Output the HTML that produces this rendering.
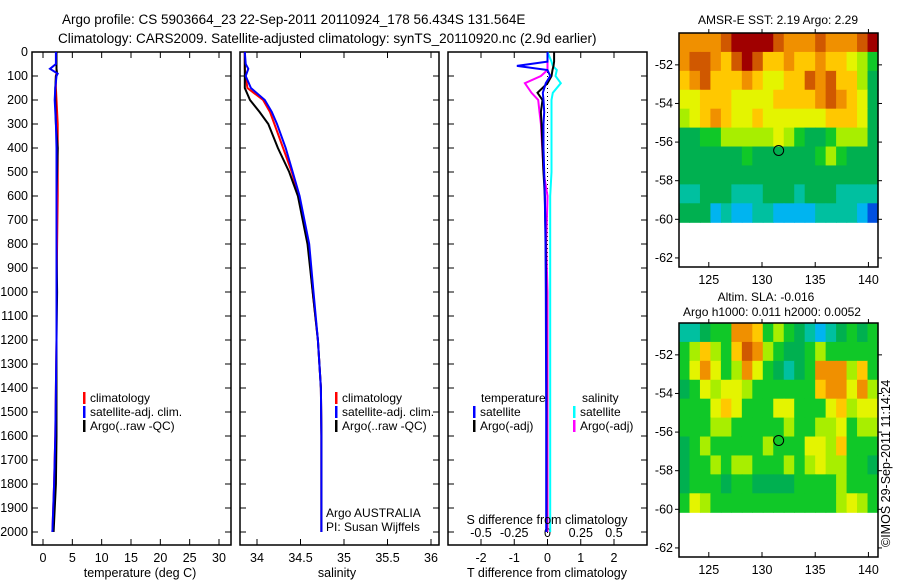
<!DOCTYPE html>
<html><head><meta charset="utf-8"><style>
html,body{margin:0;padding:0;background:#fff;}
svg{display:block;font-family:"Liberation Sans",sans-serif;}
text{fill:#000;}
</style></head><body>
<svg id="fig" width="900" height="580" viewBox="0 0 900 580">
<text x="62" y="24" font-size="13.5">Argo profile: CS 5903664_23 22-Sep-2011 20110924_178 56.434S 131.564E</text>
<text x="58" y="43" font-size="13.5">Climatology: CARS2009. Satellite-adjusted climatology: synTS_20110920.nc (2.9d earlier)</text>
<g id="plots"></g>
<text transform="translate(890,547) rotate(-90)" font-size="12.5">©IMOS 29-Sep-2011 11:14:24</text>
</svg>
<script>
// ---------- data ----------
const depthT = [0,50,70,90,100,150,200,300,400,500,600,800,1000,1200,1400,1600,1800,2000];
const tempClim = [2.3,2.3,2.3,2.3,2.2,2.2,2.3,2.5,2.5,2.5,2.5,2.4,2.3,2.3,2.2,2.1,1.9,1.6];
const tempSat = [2.2,2.2,1.2,2.5,2.3,2.1,2.0,2.2,2.3,2.3,2.3,2.3,2.3,2.3,2.2,2.1,1.9,1.6];
const tempArgo = [2.3,2.3,2.3,2.4,2.2,2.1,2.1,2.2,2.5,2.4,2.3,2.3,2.4,2.3,2.3,2.3,2.2,1.8];
const depthS = [0,50,70,100,150,200,250,300,400,500,600,800,1000,1200,1400,1600,1800,2000];
const salClim = [33.86,33.86,33.86,33.87,33.89,34.07,34.15,34.20,34.30,34.40,34.48,34.59,34.64,34.70,34.735,34.74,34.74,34.74];
const salSat = [33.86,33.87,33.90,33.87,33.93,34.09,34.17,34.23,34.33,34.41,34.49,34.60,34.65,34.70,34.735,34.74,34.74,34.74];
const salArgo = [33.86,33.86,33.86,33.86,33.86,33.92,34.03,34.13,34.24,34.37,34.47,34.58,34.64,34.70,34.735,34.74,34.74,34.74];
const depthD = [0,40,58,75,100,130,170,200,250,300,400,500,600,800,1000,1500,2000];
const dTSat = [0.0,0.0,-0.92,0.0,0.08,-0.05,-0.14,-0.12,-0.1,-0.12,-0.12,-0.1,-0.08,-0.06,-0.05,-0.04,-0.04];
const dTArgo = [0.2,0.2,0.18,0.15,0.12,0.0,-0.3,-0.15,-0.2,-0.18,-0.15,-0.12,-0.08,-0.05,-0.04,-0.03,-0.03];
const dSSat = [0.0,0.03,0.04,0.07,0.06,0.1,0.04,0.03,0.03,0.03,0.03,0.03,0.02,0.02,0.02,0.02,0.02];
const dSArgo = [0.0,0.0,0.0,0.0,-0.05,-0.17,-0.12,-0.07,-0.06,-0.05,-0.04,-0.03,0.0,-0.01,0.0,0.0,0.0];
const tempTicks = [0,5,10,15,20,25,30];
const salTicks = [34,34.5,35,35.5,36];
const dTTicks = [-2,-1,0,1,2];
const dSTicks = [-0.5,-0.25,0,0.25,0.5];
const depthTicks = [0,100,200,300,400,500,600,700,800,900,1000,1100,1200,1300,1400,1500,1600,1700,1800,1900,2000];
const lonTicks = [125,130,135,140];
const latTicks = [-52,-54,-56,-58,-60,-62];
const sstGrid = [
[8,8,8,8,9,10,10,10,10,9,8,8,8,9,8,8,8,9,10],
[8,9,9,8,7,9,10,9,7,7,8,7,7,8,7,7,6,5,4],
[7,8,9,7,7,7,8,7,6,6,7,7,9,8,9,7,7,5,3],
[6,6,7,7,7,6,6,6,6,7,7,7,7,8,9,8,7,6,3],
[5,6,7,8,7,6,6,7,6,6,6,6,6,6,7,7,7,6,3],
[3,3,4,4,5,5,5,5,5,6,5,4,3,3,4,5,5,5,3],
[3,3,3,3,3,3,4,3,3,3,3,3,3,4,5,4,3,3,3],
[3,3,3,3,3,3,3,3,3,3,3,3,3,3,3,3,3,3,3],
[2,2,3,3,3,2,2,2,3,3,3,2,3,3,3,2,2,2,2],
[3,3,3,1,2,1,1,2,2,1,1,1,1,2,2,2,2,1,0]];
const slaGrid = [
[2,2,3,4,4,8,8,7,4,5,4,3,2,1,2,3,4,3,4],
[4,5,7,5,4,7,9,8,5,4,3,3,4,5,4,4,4,4,4],
[4,6,8,6,4,5,8,6,4,3,2,3,4,8,8,8,5,7,4],
[3,4,6,5,6,6,5,4,4,4,4,4,4,7,8,8,6,8,5],
[4,4,4,6,7,6,4,4,4,6,6,4,4,4,6,7,5,6,6],
[4,4,4,5,5,4,4,4,4,4,5,4,4,5,5,6,4,5,5],
[3,4,5,4,4,4,4,4,5,4,4,4,6,6,5,7,4,4,4],
[3,4,4,5,4,5,5,4,4,4,5,4,5,6,5,5,4,4,3],
[3,4,4,4,3,4,4,3,3,3,3,4,4,4,4,5,4,4,4],
[4,6,5,4,4,4,4,4,4,4,4,4,4,4,4,5,6,5,4]];
const argoLon = 131.564, argoLat = -56.434;

// ---------- rendering ----------
const NS="http://www.w3.org/2000/svg";
const root=document.getElementById('plots');
function mk(tag,attrs,parent){const e=document.createElementNS(NS,tag);for(const k in attrs)e.setAttribute(k,attrs[k]);(parent||root).appendChild(e);return e;}
const palette=['#0050e0','#00b4f0','#00c0a0','#00b050','#10c828','#a8ee00','#e4f400','#ffc800','#f09000','#d05800','#a00000'];
const Y0=52, Y1=545;
const yD=d=>Y0+d*0.24;
function lin(d0,d1,p0,p1){return v=>p0+(v-d0)*(p1-p0)/(d1-d0);}

function panel(name,x0,x1,xs,ticks,fmt,showY){
  const g=mk('g',{});
  
  
  const fr=mk('rect',{x:x0,y:Y0,width:x1-x0,height:Y1-Y0,fill:'none',stroke:'#000','stroke-width':1.5},g);
  
  
  ticks.forEach(t=>{const x=xs(t);
    mk('line',{x1:x,x2:x,y1:Y1,y2:Y1-6,stroke:'#000'},g);
    mk('line',{x1:x,x2:x,y1:Y0,y2:Y0+6,stroke:'#000'},g);
    if(fmt){const tx=mk('text',{x:x,y:Y1+17,'font-size':12.5,'text-anchor':'middle'},g);tx.textContent=fmt(t);
      
      }
  });
  depthTicks.forEach(d=>{const y=yD(d);
    mk('line',{x1:x0,x2:x0+6,y1:y,y2:y,stroke:'#000'},g);
    mk('line',{x1:x1,x2:x1-6,y1:y,y2:y,stroke:'#000'},g);
    if(showY){const tx=mk('text',{x:x0-4,y:y+4,'font-size':12.5,'text-anchor':'end'},g);tx.textContent=d;
      
      }
  });
  return g;
}
function line(g,depths,vals,xs,color,name,w){
  const pts=depths.map((d,i)=>xs(vals[i]).toFixed(1)+','+yD(d).toFixed(1)).join(' ');
  const p=mk('polyline',{points:pts,fill:'none',stroke:color,'stroke-width':w||2},g);
  
  
}
function legend(g,x,y,items){
  items.forEach((it,i)=>{
    mk('rect',{x:x,y:y+i*14-10,width:2.5,height:12,fill:it[1]},g);
    const t=mk('text',{x:x+7,y:y+i*14,'font-size':12},g);t.textContent=it[0];
    
    
  });
}
function label(g,x,y,txt,name,anchor,fs){const t=mk('text',{x:x,y:y,'font-size':fs||12.5,'text-anchor':anchor||'middle'},g);t.textContent=txt;
  
  }

const xT=lin(0,30,43,219);
let g=panel('temperature-panel',32,231,xT,tempTicks,v=>v,true);
line(g,depthT,tempClim,xT,'#f00','climatology-temp-line');
line(g,depthT,tempArgo,xT,'#000','argo-temp-line');
line(g,depthT,tempSat,xT,'#00f','satellite-temp-line');
legend(g,83,402,[['climatology','#f00'],['satellite-adj. clim.','#00f'],['Argo(..raw -QC)','#000']]);
label(g,140,577,'temperature (deg C)','x-axis-title-temperature');

const xS=lin(34,36,257,431);
g=panel('salinity-panel',240,439,xS,salTicks,v=>v,false);
line(g,depthS,salClim,xS,'#f00','climatology-salinity-line');
line(g,depthS,salArgo,xS,'#000','argo-salinity-line');
line(g,depthS,salSat,xS,'#00f','satellite-salinity-line');
legend(g,335,402,[['climatology','#f00'],['satellite-adj. clim.','#00f'],['Argo(..raw -QC)','#000']]);
label(g,326,517,'Argo AUSTRALIA','argo-australia-label','start',12);
label(g,326,531,'PI: Susan Wijffels','pi-label','start',12);
label(g,337,577,'salinity','x-axis-title-salinity');

const xDT=lin(-2,2,481,614);
const xDS=lin(-0.5,0.5,481,614);
g=panel('difference-panel',448,647,xDT,dTTicks,v=>v,false);
dSTicks.forEach(t=>{const tx=mk('text',{x:xDS(t),y:537,'font-size':12.5,'text-anchor':'middle'},g);tx.textContent=String(t);
  
  });
mk('line',{x1:xDT(0),x2:xDT(0),y1:Y0,y2:Y1,stroke:'#000','stroke-dasharray':'1,3'},g);
line(g,depthD,dSSat,xDS,'#00ffff','salinity-satellite-diff-line');
line(g,depthD,dSArgo,xDS,'#ff00ff','salinity-argo-diff-line');
line(g,depthD,dTArgo,xDT,'#000','temperature-argo-diff-line');
line(g,depthD,dTSat,xDT,'#00f','temperature-satellite-diff-line');
label(g,481,402,'temperature','legend-temperature-header','start',12);
label(g,582,402,'salinity','legend-salinity-header','start',12);
legend(g,473,416,[['satellite','#00f'],['Argo(-adj)','#000']]);
legend(g,573,416,[['satellite','#00ffff'],['Argo(-adj)','#ff00ff']]);
label(g,547,524,'S difference from climatology','s-diff-axis-title');
label(g,547,577,'T difference from climatology','t-diff-axis-title');

function map(name,top,grid,titles){
  const L=679,R=878,B=top+234;
  const xs=lin(122.2,140.9,L,R), ys=lin(-50.35,-62.47,top,B);
  const g=mk('g',{});
  
  
  const nr=grid.length, nc=grid[0].length;
  const latBot=-60.15, dlat=(-50.35-latBot)/nr, dlon=(140.9-122.2)/nc;
  grid.forEach((row,i)=>row.forEach((v,j)=>{
    const x=xs(122.2+j*dlon), y=ys(-50.35-i*dlat);
    const c=mk('rect',{x:x.toFixed(2),y:y.toFixed(2),width:(xs(122.2+(j+1)*dlon)-x+0.6).toFixed(2),height:(ys(-50.35-(i+1)*dlat)-y+0.6).toFixed(2),fill:palette[v]},g);
    
    
  }));
  const fr=mk('rect',{x:L,y:top,width:R-L,height:B-top,fill:'none',stroke:'#000','stroke-width':1.5},g);
  
  
  lonTicks.forEach(t=>{const x=xs(t);mk('line',{x1:x,x2:x,y1:B,y2:B-5,stroke:'#000'},g);mk('line',{x1:x,x2:x,y1:top,y2:top-4,stroke:'#000'},g);
    label(g,x,B+17,t,'lon-tick-label');});
  latTicks.forEach(t=>{const y=ys(t);mk('line',{x1:L,x2:L-4,y1:y,y2:y,stroke:'#000'},g);mk('line',{x1:R,x2:R+4,y1:y,y2:y,stroke:'#000'},g);
    label(g,L-6,y+4,t,'lat-tick-label','end');});
  const c=mk('circle',{cx:xs(argoLon),cy:ys(argoLat),r:5,fill:'none',stroke:'#000','stroke-width':1},g);
  
  
  titles.forEach(t=>label(g,t[1],t[2],t[0],name+'-title','middle',12));
}
map('sst-map',33,sstGrid,[['AMSR-E SST: 2.19 Argo: 2.29',778,24]]);
map('sla-map',323,slaGrid,[['Altim. SLA: -0.016',766,301],['Argo h1000: 0.011 h2000: 0.0052',772,316]]);
</script>
</body></html>
